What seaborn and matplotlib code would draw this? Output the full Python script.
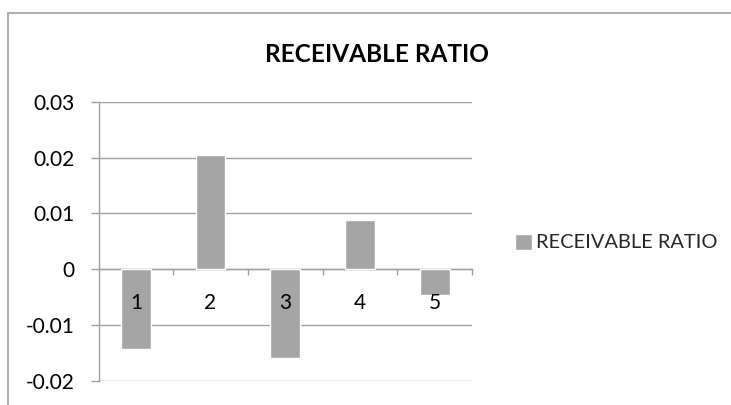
import matplotlib
matplotlib.use("Agg")
import matplotlib.pyplot as plt
from matplotlib.patches import Rectangle
from matplotlib.ticker import FixedLocator, FixedFormatter
import seaborn as sns
import pandas as pd

# Data
periods = ["1", "2", "3", "4", "5"]
receivable_ratio = [-0.0143, 0.0205, -0.0159, 0.0088, -0.0046]
series_name = "RECEIVABLE RATIO"
y_ticks = [-0.02, -0.01, 0.0, 0.01, 0.02, 0.03]
y_tick_labels = ["-0.02", "-0.01", "0", "0.01", "0.02", "0.03"]

sns.set_style("white")
plt.rcParams["font.family"] = ["Lato", "DejaVu Sans"]

W, H = 731, 405
fig = plt.figure(figsize=(W / 100, H / 100), dpi=100)

# chart frame
fig.patches.append(Rectangle((8 / W, -0.05), 1.2, 1 - 13 / H + 0.05,
                             transform=fig.transFigure, fill=False,
                             edgecolor="#a6a6a6", linewidth=1.3, zorder=0))

left, right, top, bottom = 98.5, 472, 101.7, 381
ax = fig.add_axes([left / W, 1 - bottom / H, (right - left) / W, (bottom - top) / H])

df = pd.DataFrame({"period": periods, "value": receivable_ratio})
sns.barplot(data=df, x="period", y="value", color="#a5a5a5", saturation=1,
            width=0.4, ax=ax, label=series_name, zorder=3)

grid_c = "#a0a0a0"
ax.set_ylim(-0.02, 0.03)
ax.set_xlim(-0.5, len(periods) - 0.5)
ax.yaxis.set_major_locator(FixedLocator(y_ticks))
ax.yaxis.set_major_formatter(FixedFormatter(y_tick_labels))
ax.yaxis.grid(True, color=grid_c, linewidth=1.0)
ax.set_axisbelow(True)
# category labels sit on top of the bars
ax.xaxis.set_zorder(5)
ax.set_xlabel("")
ax.set_ylabel("")

for s in ["top", "right"]:
    ax.spines[s].set_visible(False)
ax.spines["left"].set_color(grid_c)
ax.spines["left"].set_linewidth(1.0)
ax.spines["bottom"].set_position(("data", 0))
ax.spines["bottom"].set_color(grid_c)
ax.spines["bottom"].set_linewidth(1.0)

ax.tick_params(axis="y", which="major", direction="out", length=6, width=1.0,
               color=grid_c, pad=11, labelsize=15, labelcolor="black", left=True)
ax.tick_params(axis="x", which="major", length=0, pad=17, labelsize=15,
               labelcolor="black", bottom=True)
ax.xaxis.set_minor_locator(FixedLocator([i + 0.5 for i in range(len(periods))]))
ax.tick_params(axis="x", which="minor", direction="out", length=4, width=1.0,
               color=grid_c, bottom=True)

fig.text(376.5 / W, 1 - 61.7 / H, series_name, ha="center", va="baseline",
         fontsize=17.6, fontweight="bold", color="black")

fs_leg = 14.4
em = fs_leg * 100 / 72
ax.legend(loc="center left", bbox_to_anchor=(515 / W, 1 - 242.5 / H),
          bbox_transform=fig.transFigure, frameon=False, fontsize=fs_leg,
          handlelength=17 / em, handleheight=17 / em, handletextpad=4 / em,
          borderpad=0, borderaxespad=0)

fig.savefig("out.png", dpi=100)
